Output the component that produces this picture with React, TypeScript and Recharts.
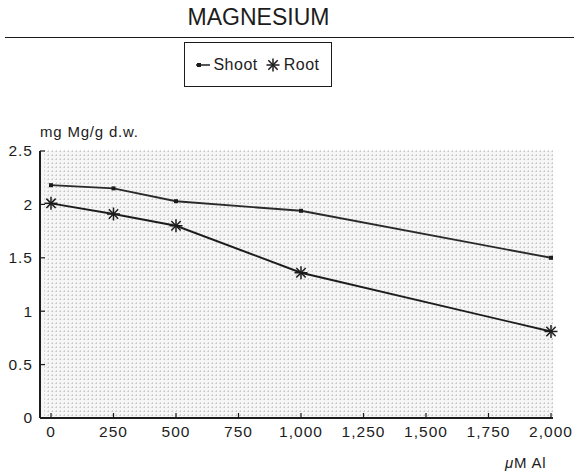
import { LineChart, Line, XAxis, YAxis, CartesianGrid, Legend } from 'recharts';

const doses = [0, 250, 500, 1000, 2000];
const shootMg = [2.18, 2.15, 2.03, 1.94, 1.5];
const rootMg = [2.01, 1.91, 1.8, 1.36, 0.81];
const xTicks = [0, 250, 500, 750, 1000, 1250, 1500, 1750, 2000];
const yTicks = [0, 0.5, 1, 1.5, 2, 2.5];

const data = doses.map((d, i) => ({ dose: d, shoot: shootMg[i], root: rootMg[i] }));

const font = '"Liberation Sans", Arial, sans-serif';
const ink = '#1c1c1c';

const fmtX = (v: number) => v.toLocaleString('en-US');

const XTick = (props: any) => {
  const { x, y, payload } = props;
  return (
    <g>
      <line x1={x} x2={x} y1={y - 8} y2={y - 13} stroke={ink} strokeWidth={1.2} />
      <text x={x} y={y} dy="0.71em" textAnchor="middle" fontSize={15.5} letterSpacing={1} fill={ink} fontFamily={font}>
        {fmtX(payload.value)}
      </text>
    </g>
  );
};

const YTick = (props: any) => {
  const { x, y, payload } = props;
  return (
    <g>
      <line x1={x + 7} x2={x + 12} y1={y} y2={y} stroke={ink} strokeWidth={1.2} />
      <text x={x} y={y} dy="0.35em" textAnchor="end" fontSize={15.5} letterSpacing={1} fill={ink} fontFamily={font}>
        {payload.value}
      </text>
    </g>
  );
};

const StarDot = (props: any) => {
  const { cx, cy } = props;
  if (cx == null || cy == null) return null;
  const r = 6.5;
  const d = r * 0.72;
  return (
    <g stroke={ink} strokeWidth={1.5}>
      <line x1={cx - r} x2={cx + r} y1={cy} y2={cy} />
      <line x1={cx} x2={cx} y1={cy - r} y2={cy + r} />
      <line x1={cx - d} x2={cx + d} y1={cy - d} y2={cy + d} />
      <line x1={cx - d} x2={cx + d} y1={cy + d} y2={cy - d} />
    </g>
  );
};

const SquareDot = (props: any) => {
  const { cx, cy } = props;
  if (cx == null || cy == null) return null;
  return <rect x={cx - 2} y={cy - 2} width={4} height={4} fill={ink} />;
};

const gridStep = 4;
const hGen = ({ offset }: any) => {
  const pts: number[] = [];
  for (let p = offset.top; p <= offset.top + offset.height; p += gridStep) pts.push(p);
  return pts;
};
const vGen = ({ offset }: any) => {
  const pts: number[] = [];
  for (let p = offset.left + 8; p <= offset.left + offset.width; p += gridStep) pts.push(p);
  return pts;
};

const LegendBox = () => (
  <div
    style={{
      width: 148,
      height: 45,
      border: `1.5px solid ${ink}`,
      boxSizing: 'border-box',
      display: 'flex',
      alignItems: 'center',
      justifyContent: 'center',
      fontFamily: font,
      fontSize: 16,
      color: ink,
      letterSpacing: 0.5,
    }}
  >
    <svg width={14} height={10} style={{ marginRight: 3 }}>
      <line x1={0} x2={14} y1={5} y2={5} stroke={ink} strokeWidth={1.5} />
      <rect x={1} y={3} width={4} height={4} fill={ink} />
    </svg>
    <span style={{ marginRight: 8 }}>Shoot</span>
    <svg width={14} height={14} style={{ marginRight: 4 }}>
      <StarDot cx={7} cy={7} />
    </svg>
    <span>Root</span>
  </div>
);

export default function App() {
  return (
    <div style={{ position: 'absolute', left: 0, top: 0, width: 574, height: 475, background: '#fff', fontFamily: font }}>
      <div style={{ position: 'absolute', left: 0, width: 517, top: 4, textAlign: 'center', fontSize: 23, color: ink }}>
        MAGNESIUM
      </div>
      <div style={{ position: 'absolute', left: 5, right: 0, top: 37, height: 0, borderTop: `1.5px solid ${ink}` }} />
      <div style={{ position: 'absolute', left: 40, top: 123, fontSize: 15, letterSpacing: 0.8, color: ink }}>
        mg Mg/g d.w.
      </div>
      <div style={{ position: 'absolute', left: 505, top: 454, fontSize: 15, letterSpacing: 0.8, color: ink }}>
        <i>μ</i>M Al
      </div>
      <LineChart width={574} height={475} data={data} margin={{ top: 151, right: 21, bottom: 17, left: 0 }}>
        <CartesianGrid
          fill="#f6f6f6"
          stroke="#b8b8b8"
          strokeDasharray="1 3"
          horizontalCoordinatesGenerator={hGen}
          verticalCoordinatesGenerator={vGen}
        />
        <XAxis
          type="number"
          dataKey="dose"
          domain={[0, 2000]}
          ticks={xTicks}
          padding={{ left: 11, right: 2 }}
          height={40}
          tickSize={0}
          tickMargin={8}
          tickLine={false}
          axisLine={{ stroke: ink, strokeWidth: 2 }}
          tick={<XTick />}
          interval={0}
        />
        <YAxis
          type="number"
          domain={[0, 2.5]}
          ticks={yTicks}
          width={40}
          tickSize={0}
          tickMargin={7}
          tickLine={false}
          axisLine={{ stroke: ink, strokeWidth: 2 }}
          tick={<YTick />}
          interval={0}
        />
        <Legend
          layout="horizontal"
          verticalAlign="middle"
          content={<LegendBox />}
          wrapperStyle={{ position: 'absolute', top: 42, left: 184, width: 148, height: 45 }}
        />
        <Line
          dataKey="shoot"
          name="Shoot"
          stroke="#2a2a2a"
          strokeWidth={1.9}
          dot={<SquareDot />}
          activeDot={false}
          isAnimationActive={false}
        />
        <Line
          dataKey="root"
          name="Root"
          stroke={ink}
          strokeWidth={1.9}
          dot={<StarDot />}
          activeDot={false}
          isAnimationActive={false}
        />
      </LineChart>
    </div>
  );
}
